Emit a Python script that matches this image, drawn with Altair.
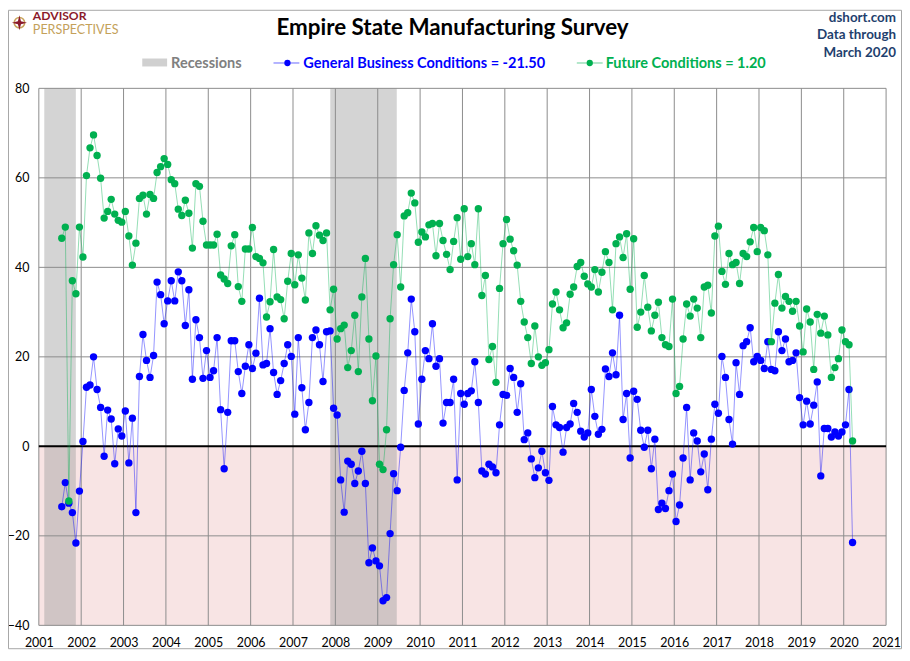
import altair as alt
import pandas as pd

# ---------------- data ----------------
first_month = "2001-07-01"

gbc_2001 = [-13.5, -8.1, -12.7, -14.8, -21.6, -10.0]
gbc_2002 = [1.1, 13.2, 13.7, 20.0, 12.7, 8.7, -2.2, 8.1, 6.1, -3.9, 3.9, 2.3]
gbc_2003 = [7.9, -3.7, 6.3, -14.8, 15.6, 25.0, 19.2, 15.4, 20.3, 36.7, 33.9, 27.4]
gbc_2004 = [32.5, 37.0, 32.5, 39.0, 37.0, 27.0, 35.0, 15.0, 28.3, 24.3, 15.2, 21.4]
gbc_2005 = [15.4, 16.9, 24.3, 8.2, -5.0, 7.6, 23.6, 23.6, 16.7, 11.8, 17.9, 22.7]
gbc_2006 = [17.4, 20.8, 33.1, 18.2, 18.5, 26.3, 16.5, 11.6, 14.7, 18.5, 22.7, 20.1]
gbc_2007 = [7.2, 24.3, 13.1, 3.7, 9.8, 24.3, 26.0, 22.7, 14.5, 25.6, 25.8, 8.5]
gbc_2008 = [7.0, -7.5, -14.7, -3.3, -4.0, -8.3, -5.5, -1.1, -8.3, -26.0, -22.7, -25.6]
gbc_2009 = [-26.7, -34.5, -33.8, -19.5, -6.1, -9.9, -0.2, 12.5, 20.9, 32.9, 25.6, 5.0]
gbc_2010 = [15.0, 21.4, 19.6, 27.4, 17.9, 19.6, 5.2, 9.8, 9.8, 15.0, -7.5, 11.8]
gbc_2011 = [9.4, 11.8, 12.4, 18.9, 9.8, -5.5, -6.2, -4.0, -4.6, -5.9, 4.8, 11.6]
gbc_2012 = [11.4, 17.4, 15.4, 7.6, 14.0, 1.5, 3.0, -2.8, -7.0, -4.8, -1.1, -5.9]
gbc_2013 = [-7.6, 8.9, 4.8, 4.2, -1.3, 4.2, 5.0, 9.6, 7.6, 3.4, 2.1, 3.0]
gbc_2014 = [12.7, 6.7, 2.7, 3.8, 17.3, 15.6, 20.9, 16.0, 29.3, 6.0, 11.8, -2.6]
gbc_2015 = [12.3, 10.5, 3.6, -0.2, 3.6, -5.0, 1.6, -14.1, -12.7, -13.9, -9.9, -6.2]
gbc_2016 = [-16.8, -13.1, -2.6, 8.7, -7.5, 3.0, 1.2, -5.7, -1.7, -9.7, 1.6, 9.4]
gbc_2017 = [7.4, 20.1, 15.4, 6.0, 0.5, 18.7, 11.6, 22.5, 23.4, 26.5, 18.9, 20.1]
gbc_2018 = [19.2, 17.4, 23.4, 17.2, 16.9, 25.6, 21.4, 24.0, 18.9, 19.2, 20.9, 10.9]
gbc_2019 = [4.8, 10.1, 5.0, 9.2, 14.4, -6.6, 4.0, 4.0, 2.1, 3.2, 2.3, 3.2]
gbc_2020 = [4.8, 12.7, -21.5]

fc_2001 = [46.5, 49.0, -12.2, 37.0, 34.1, 49.0]
fc_2002 = [42.3, 60.5, 66.7, 69.6, 65.0, 59.9, 51.0, 52.5, 55.2, 51.9, 50.5, 50.1]
fc_2003 = [52.5, 47.0, 40.5, 45.4, 55.4, 56.1, 51.9, 56.3, 55.4, 61.2, 62.5, 64.3]
fc_2004 = [63.0, 59.6, 58.7, 53.0, 51.6, 55.0, 52.1, 44.3, 58.7, 58.1, 50.3, 45.0]
fc_2005 = [45.0, 45.0, 47.4, 38.3, 37.4, 36.4, 44.8, 47.3, 35.7, 32.4, 44.1, 44.1]
fc_2006 = [48.9, 42.4, 42.0, 41.0, 28.9, 32.3, 44.0, 33.4, 32.8, 28.5, 36.9, 43.1]
fc_2007 = [36.1, 42.8, 37.6, 32.7, 47.7, 43.1, 49.3, 47.2, 46.0, 47.7, 30.5, 35.1]
fc_2008 = [24.0, 26.3, 27.1, 17.6, 21.4, 29.3, 16.7, 33.4, 42.0, 24.0, 10.2, 20.2]
fc_2009 = [-4.0, -5.2, 3.7, 28.5, 40.6, 47.3, 35.6, 51.5, 52.2, 56.6, 54.4, 45.6]
fc_2010 = [47.9, 46.8, 49.5, 49.8, 42.6, 49.8, 46.0, 42.9, 39.5, 45.8, 51.1, 41.8]
fc_2011 = [53.1, 42.4, 45.3, 40.6, 53.1, 33.7, 38.2, 19.4, 22.3, 14.3, 35.3, 45.3]
fc_2012 = [50.7, 46.3, 43.7, 40.5, 32.4, 27.8, 24.3, 18.5, 26.9, 20.0, 18.1, 18.7]
fc_2013 = [21.6, 31.8, 34.5, 30.5, 26.5, 27.6, 34.0, 35.6, 40.2, 41.1, 38.0, 36.3]
fc_2014 = [35.6, 39.5, 34.5, 38.9, 43.5, 41.1, 30.5, 45.3, 46.8, 42.2, 47.5, 35.1]
fc_2015 = [46.4, 26.6, 30.0, 38.2, 31.1, 25.8, 29.3, 32.2, 24.3, 22.7, 22.3, 32.9]
fc_2016 = [11.8, 13.4, 24.0, 31.8, 29.1, 32.9, 30.9, 24.3, 35.6, 36.0, 29.8, 47.0]
fc_2017 = [49.2, 39.1, 36.2, 43.1, 40.6, 41.1, 36.4, 43.1, 42.4, 45.7, 48.9, 43.5]
fc_2018 = [48.9, 48.2, 42.8, 23.4, 32.0, 38.4, 30.9, 33.5, 32.4, 30.2, 32.4, 26.9]
fc_2019 = [21.1, 30.7, 27.8, 17.2, 29.5, 25.3, 29.1, 24.9, 15.4, 17.6, 19.6, 26.0]
fc_2020 = [23.4, 22.7, 1.2]

recession_start = ["2001-02-17", "2007-11-18"]
recession_end = ["2001-11-16", "2009-06-14"]

year_ticks = list(range(2001, 2022))
value_ticks = [-40, -20, 0, 20, 40, 60, 80]
grid_values = [-40, -20, 20, 40, 60, 80]
negative_zone = [0, -40]

# ---------------- assemble ----------------
gbc = (gbc_2001 + gbc_2002 + gbc_2003 + gbc_2004 + gbc_2005 + gbc_2006 + gbc_2007
       + gbc_2008 + gbc_2009 + gbc_2010 + gbc_2011 + gbc_2012 + gbc_2013 + gbc_2014
       + gbc_2015 + gbc_2016 + gbc_2017 + gbc_2018 + gbc_2019 + gbc_2020)
fc = (fc_2001 + fc_2002 + fc_2003 + fc_2004 + fc_2005 + fc_2006 + fc_2007
      + fc_2008 + fc_2009 + fc_2010 + fc_2011 + fc_2012 + fc_2013 + fc_2014
      + fc_2015 + fc_2016 + fc_2017 + fc_2018 + fc_2019 + fc_2020)


def dec_year(ts):
    ts = pd.Timestamp(ts)
    return ts.year + (ts.dayofyear - 1) / (366 if ts.is_leap_year else 365)


months = pd.date_range(first_month, periods=len(gbc), freq="MS")
df = pd.DataFrame({
    "t": [m.year + (m.month - 0.5) / 12 for m in months],
    "gbc": gbc,
    "fc": fc,
})
rec_df = pd.DataFrame({"s": [dec_year(d) for d in recession_start],
                       "e": [dec_year(d) for d in recession_end]})
zone_df = pd.DataFrame({"s": [year_ticks[0]], "e": [year_ticks[-1]],
                        "y": [negative_zone[0]], "y2": [negative_zone[1]]})
vgrid_df = pd.DataFrame({"yr": year_ticks})
hgrid_df = pd.DataFrame({"v": grid_values})
zero_df = pd.DataFrame({"v": [0]})
one = pd.DataFrame({"a": [0]})

LABEL_FONT = "Lato"
xscale = alt.Scale(domain=[year_ticks[0], year_ticks[-1]], nice=False, zero=False)
yscale = alt.Scale(domain=[value_ticks[0], value_ticks[-1]], nice=False, zero=False)
xaxis = alt.Axis(values=year_ticks, format="d", title=None, grid=False, ticks=False,
                 domain=False, labelFont=LABEL_FONT, labelFontSize=12.5,
                 labelColor="#000000", labelPadding=11, labelFlush=False,
                 labelOverlap=False, labelBound=False)
yaxis = alt.Axis(values=value_ticks, title=None, grid=False, ticks=False,
                 domain=False, labelFont=LABEL_FONT, labelFontSize=12.5,
                 labelColor="#000000", labelPadding=10)


def X(field, **kw):
    return alt.X(field, type="quantitative", scale=xscale, axis=xaxis, **kw)


def Y(field, **kw):
    return alt.Y(field, type="quantitative", scale=yscale, axis=yaxis, **kw)


zone = alt.Chart(zone_df).mark_rect(color="#F8E4E4").encode(
    x=X("s"), x2="e", y=Y("y"), y2="y2")
recess = alt.Chart(rec_df).mark_rect(color="#A0A0A0", opacity=0.45).encode(
    x=X("s"), x2="e", y=alt.value(0), y2=alt.value(540))
vgrid = alt.Chart(vgrid_df).mark_rule(color="#8C8C8C", strokeWidth=1).encode(x=X("yr"))
hgrid = alt.Chart(hgrid_df).mark_rule(color="#8C8C8C", strokeWidth=1).encode(y=Y("v"))
zero = alt.Chart(zero_df).mark_rule(color="#000000", strokeWidth=2).encode(y=Y("v"))

BLUE = "#0000FF"
GREEN = "#00B050"
gbc_line = alt.Chart(df).mark_line(color=BLUE, strokeWidth=1, opacity=0.42).encode(
    x=X("t"), y=Y("gbc"))
gbc_pts = alt.Chart(df).mark_circle(color=BLUE, size=55, opacity=1).encode(
    x=X("t"), y=Y("gbc"))
fc_line = alt.Chart(df).mark_line(color=GREEN, strokeWidth=1, opacity=0.42).encode(
    x=X("t"), y=Y("fc"))
fc_pts = alt.Chart(df).mark_circle(color=GREEN, size=55, opacity=1).encode(
    x=X("t"), y=Y("fc"))

# ---------------- decorations ----------------
def txt(s, x, y, size, color, weight="bold", align="left", font="Lato", baseline="alphabetic"):
    return alt.Chart(one).mark_text(
        text=s, fontSize=size, fontWeight=weight, color=color, align=align,
        baseline=baseline, font=font).encode(x=alt.value(x), y=alt.value(y))


title = txt("Empire State Manufacturing Survey", 416, -54, 22.5, "#000000", align="center")
r1 = txt("dshort.com", 862, -67, 13.5, "#1F3F6E", align="right")
r2 = txt("Data through", 862, -50, 13.5, "#1F3F6E", align="right")
r3 = txt("March 2020", 862, -32, 13.5, "#1F3F6E", align="right")

leg_rect = alt.Chart(one).mark_rect(color="#D0D0D0").encode(
    x=alt.value(104), x2=alt.value(129), y=alt.value(-30), y2=alt.value(-22))
leg_rec_t = txt("Recessions", 133, -20.5, 14.6, "#808080")
leg_b_line = alt.Chart(one).mark_rule(color=BLUE, strokeWidth=1, opacity=0.6).encode(
    x=alt.value(236), x2=alt.value(262), y=alt.value(-25.5))
leg_b_pt = alt.Chart(one).mark_circle(color=BLUE, size=40, opacity=1).encode(
    x=alt.value(250), y=alt.value(-25.5))
leg_b_t = txt("General Business Conditions = -21.50", 266, -20.5, 14.6, BLUE)
leg_g_line = alt.Chart(one).mark_rule(color=GREEN, strokeWidth=1, opacity=0.6).encode(
    x=alt.value(541), x2=alt.value(567), y=alt.value(-25.5))
leg_g_pt = alt.Chart(one).mark_circle(color=GREEN, size=40, opacity=1).encode(
    x=alt.value(554), y=alt.value(-25.5))
leg_g_t = txt("Future Conditions = 1.20", 570, -20.5, 14.6, GREEN)

logo_ring = alt.Chart(one).mark_point(shape="circle", filled=False, color="#C9A45C",
                                      strokeWidth=1.6, size=110, opacity=1).encode(
    x=alt.value(-19.5), y=alt.value(-66))
logo_star = alt.Chart(one).mark_point(
    shape="M0,-1L0.2,-0.2L1,0L0.2,0.2L0,1L-0.2,0.2L-1,0L-0.2,-0.2Z",
    filled=True, color="#8B1A2B", size=230, opacity=1).encode(
    x=alt.value(-19.5), y=alt.value(-66))
logo_a = txt("ADVISOR", -6, -68.5, 12.2, "#8B1A2B")
logo_p = txt("PERSPECTIVES", -6, -54.5, 12.6, "#C4A15A", weight="normal")

border = alt.Chart(one).mark_rect(filled=False, stroke="#A6A6A6", strokeWidth=1).encode(
    x=alt.value(-30.5), x2=alt.value(867.5), y=alt.value(-78.5), y2=alt.value(563.5))

chart = alt.layer(
    zone, recess, vgrid, hgrid, zero,
    gbc_line, gbc_pts, fc_line, fc_pts,
    title, r1, r2, r3,
    leg_rect, leg_rec_t, leg_b_line, leg_b_pt, leg_b_t, leg_g_line, leg_g_pt, leg_g_t,
    logo_ring, logo_star, logo_a, logo_p, border,
).properties(
    width=852, height=540,
    padding={"left": 31, "top": 79, "right": 16, "bottom": 24},
    autosize=alt.AutoSizeParams(type="none"),
    background="#FFFFFF",
).configure_view(stroke=None)

chart.save("out.html", embed_options={"renderer": "svg", "actions": False})
